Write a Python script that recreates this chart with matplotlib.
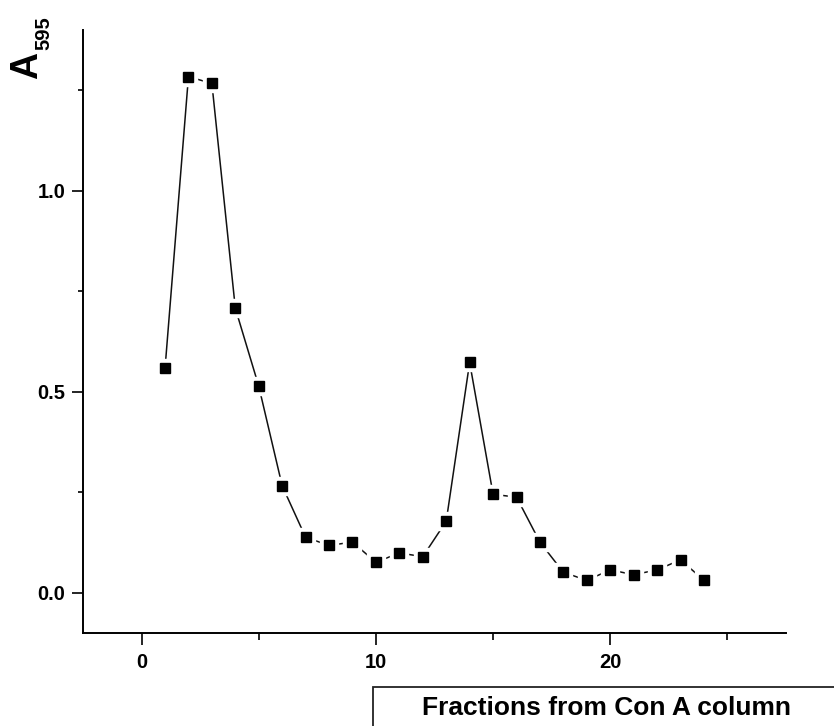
import matplotlib
matplotlib.use("Agg")
import matplotlib.pyplot as plt
from matplotlib.patches import Rectangle
from matplotlib.ticker import MultipleLocator

fractions = list(range(1, 25))
a595 = [0.558, 1.284, 1.267, 0.708, 0.514, 0.266, 0.138, 0.118, 0.126, 0.076,
        0.099, 0.090, 0.178, 0.573, 0.245, 0.238, 0.126, 0.051, 0.031, 0.057,
        0.045, 0.057, 0.082, 0.031]
x_major_ticks = [0, 10, 20]
y_major_ticks = [0.0, 0.5, 1.0]
x_label = "Fractions from Con A column"

W, H, DPI = 834, 726, 100
fig = plt.figure(figsize=(W / DPI, H / DPI), dpi=DPI)
plt.rcParams['font.family'] = ['Liberation Sans', 'DejaVu Sans']

def px(x0, y0, x1, y1):
    return [x0 / W, 1 - y1 / H, (x1 - x0) / W, (y1 - y0) / H]

ax = fig.add_axes(px(83, 30, 786, 633))
ax.set_xlim(-2.5, 27.5)
ax.set_ylim(-0.1, 1.4)

ax.plot(fractions, a595, color='#111111', lw=1.1, zorder=2)
ax.plot(fractions, a595, ls='none', marker='s', ms=12.5, mfc='white', mec='white', zorder=3)
ax.plot(fractions, a595, ls='none', marker='s', ms=7.4, mfc='black', mec='black', zorder=4)

for s in ['top', 'right']:
    ax.spines[s].set_visible(False)
for s in ['left', 'bottom']:
    ax.spines[s].set_linewidth(1.4)

ax.set_xticks(x_major_ticks)
ax.set_yticks(y_major_ticks)
ax.xaxis.set_minor_locator(MultipleLocator(5))
ax.yaxis.set_minor_locator(MultipleLocator(0.25))
ax.set_yticklabels([f"{v:.1f}" for v in y_major_ticks])
ax.tick_params(axis='x', which='major', direction='out', length=8.5, width=1.2, pad=6, labelsize=14.5)
ax.tick_params(axis='y', which='major', direction='out', length=7.7, width=1.2, pad=5, labelsize=14.5)
ax.tick_params(axis='x', which='minor', direction='out', length=5, width=1.2)
ax.tick_params(axis='y', which='minor', direction='out', length=3.5, width=1.2)
for lab in ax.get_xticklabels() + ax.get_yticklabels():
    lab.set_fontweight('bold')

# y-axis label A595
fig.text(27 / W, 1 - 65.5 / H, "A", rotation=90, ha='center', va='center',
         fontsize=27, fontweight='bold')
fig.text(44 / W, 1 - 33.5 / H, "595", rotation=90, ha='center', va='center',
         fontsize=14.5, fontweight='bold')

# x-axis label in a box
rect = Rectangle((373 / W, -0.05), 0.7, 0.05 + (1 - 686.7 / H), transform=fig.transFigure,
                 fill=True, facecolor='white', edgecolor='#222222', lw=1.3, clip_on=False)
fig.patches.append(rect)
fig.text(422 / W, 1 - 715 / H, x_label, ha='left', va='baseline', fontsize=19, fontweight='bold')

fig.savefig("out.png", dpi=DPI)
